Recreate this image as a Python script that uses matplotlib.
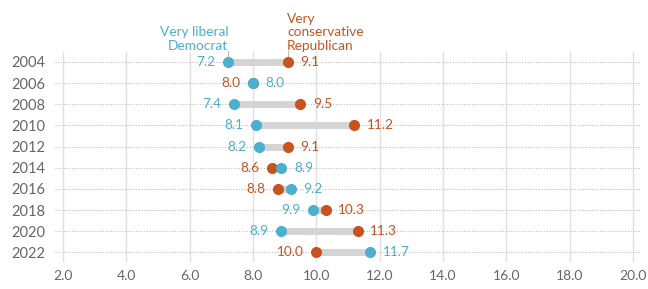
import matplotlib
matplotlib.use("Agg")
import matplotlib.pyplot as plt

years = ["2004", "2006", "2008", "2010", "2012", "2014", "2016", "2018", "2020", "2022"]
liberal_dem = [7.2, 8.0, 7.4, 8.1, 8.2, 8.9, 9.2, 9.9, 8.9, 11.7]
conservative_rep = [9.1, 8.0, 9.5, 11.2, 9.1, 8.6, 8.8, 10.3, 11.3, 10.0]
xticks = [2.0, 4.0, 6.0, 8.0, 10.0, 12.0, 14.0, 16.0, 18.0, 20.0]

BLUE = "#4BAFCF"
ORANGE = "#C8531F"
GRAY_BAR = "#D4D4D4"

plt.rcParams['font.family'] = ['Lato', 'DejaVu Sans']

fig = plt.figure(figsize=(6.48, 2.89), dpi=100)
ax = fig.add_axes([55/648, 1-262/289, (641-55)/648, 210/289])

ax.set_xlim(1.75, 20.25)
ax.set_ylim(9.45, -0.47)

for x in xticks:
    ax.axvline(x, color="#E0E0E0", lw=1.0, zorder=0)

ypos = list(range(len(years)))
for i in ypos:
    ax.axhline(i, color="#BDBDBD", lw=0.8, ls=(0, (1, 1.5)), zorder=0.5)

for i, (d, r) in enumerate(zip(liberal_dem, conservative_rep)):
    ax.plot([d, r], [i, i], color=GRAY_BAR, lw=5, solid_capstyle="butt", zorder=1)
    ax.plot(r, i, "o", color=ORANGE, ms=8, mec="none", zorder=2)
    ax.plot(d, i, "o", color=BLUE, ms=8, mec="none", zorder=3)
    if d < r:
        dlab, rlab = ("right", -9), ("left", 9)
    else:
        dlab, rlab = ("left", 9), ("right", -9)
    ax.annotate(f"{d:.1f}", (d, i), xytext=(dlab[1], 0), textcoords="offset points",
                ha=dlab[0], va="center", color=BLUE, fontsize=9.8)
    ax.annotate(f"{r:.1f}", (r, i), xytext=(rlab[1], 0), textcoords="offset points",
                ha=rlab[0], va="center", color=ORANGE, fontsize=9.8)

ax.set_yticks(ypos)
ax.set_yticklabels(years)
ax.set_xticks(xticks)
ax.set_xticklabels([f"{x:.1f}" for x in xticks])
ax.tick_params(axis="both", length=0, colors="#666666")
ax.tick_params(axis="y", pad=7, labelsize=10.5)
ax.tick_params(axis="x", pad=6, labelsize=10)
for s in ax.spines.values():
    s.set_visible(False)

# series labels
d0, r0 = liberal_dem[0], conservative_rep[0]
ax.plot([d0, d0], [-0.28, -0.5], color="#BBBBBB", lw=0.8, clip_on=False, zorder=1.5)
ax.plot([r0, r0], [-0.28, -0.5], color="#BBBBBB", lw=0.8, clip_on=False, zorder=1.5)
ax.text(d0 + 0.02, -0.57, "Very liberal\nDemocrat", color=BLUE, fontsize=9.8,
        ha="right", va="baseline", multialignment="right", linespacing=1.15)
ax.text(r0 - 0.02, -0.57, "Very\nconservative\nRepublican", color=ORANGE, fontsize=9.8,
        ha="left", va="baseline", multialignment="left", linespacing=1.15)

fig.savefig("out.png", dpi=100)
